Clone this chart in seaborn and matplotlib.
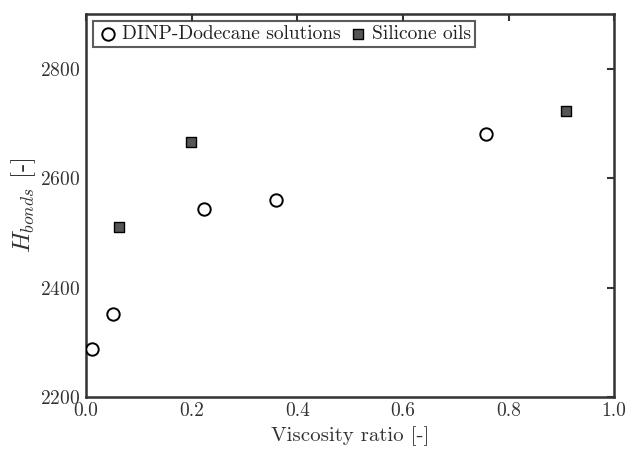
import matplotlib
matplotlib.use("Agg")
import matplotlib.pyplot as plt
import seaborn as sns
import pandas as pd

# data
dinp_ratio = [0.012, 0.051, 0.223, 0.360, 0.758]
dinp_h = [2288, 2352, 2544, 2560, 2681]
sil_ratio = [0.063, 0.199, 0.909]
sil_h = [2510, 2667, 2722]

sns.set_style("white")
plt.rcParams.update({
    "font.family": "cmr10",
    "mathtext.fontset": "cm",
    "axes.formatter.use_mathtext": True,
    "font.size": 14,
})
clr = "#333333"

df1 = pd.DataFrame({"x": dinp_ratio, "y": dinp_h})
df2 = pd.DataFrame({"x": sil_ratio, "y": sil_h})

fig = plt.figure(figsize=(6.28, 4.54), dpi=100)
ax = fig.add_axes([0.137, 0.1256, 0.841, 0.8434])

sns.scatterplot(data=df1, x="x", y="y", ax=ax, marker="o", s=80,
                facecolor="white", edgecolor="black", linewidth=1.4,
                label="DINP-Dodecane solutions", zorder=3)
sns.scatterplot(data=df2, x="x", y="y", ax=ax, marker="s", s=50,
                color="#555555", edgecolor="black", linewidth=1.0,
                label="Silicone oils", zorder=3)

ax.set_xlim(0, 1)
ax.set_ylim(2200, 2900)
ax.set_xticks([0, 0.2, 0.4, 0.6, 0.8, 1.0])
ax.set_xticklabels(["0.0", "0.2", "0.4", "0.6", "0.8", "1.0"])
ax.set_yticks([2200, 2400, 2600, 2800])
ax.tick_params(direction="in", length=5, width=1.5, color=clr,
               top=True, right=True, labelcolor=clr, pad=4)
for s in ax.spines.values():
    s.set_linewidth(1.8)
    s.set_color(clr)

ax.set_xlabel("Viscosity ratio [-]", color=clr, fontsize=15)
ax.set_ylabel(r"$H_{bonds}$ [-]", color=clr, fontsize=18, labelpad=2)

leg = ax.legend(loc="upper left", ncol=2, frameon=True, fancybox=False,
                borderaxespad=0.35, handletextpad=0.1, columnspacing=0.3,
                borderpad=0.2, handlelength=1.2, fontsize=14)
leg.get_frame().set_edgecolor(clr)
leg.get_frame().set_linewidth(1.5)
for t in leg.get_texts():
    t.set_color("#222222")

fig.savefig("out.png", dpi=100)
